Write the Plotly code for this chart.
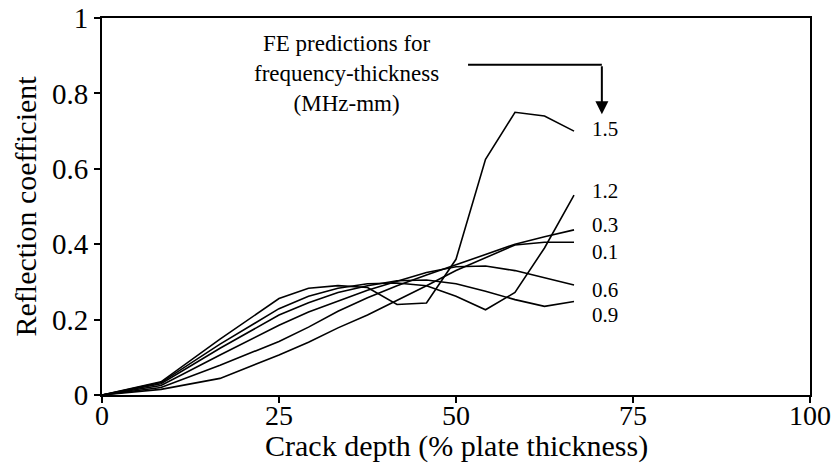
import plotly.graph_objects as go

# Crack depth (% plate thickness)
depth = [0, 8.33, 16.67, 25, 29.17, 33.33, 37.5, 41.67, 45.83, 50, 54.17, 58.33, 62.5, 66.67]

# Reflection coefficient for each frequency-thickness (MHz-mm)
r_1_5 = [0, 0.035, 0.148, 0.256, 0.283, 0.290, 0.285, 0.240, 0.244, 0.360, 0.625, 0.750, 0.740, 0.700]
r_1_2 = [0, 0.033, 0.135, 0.229, 0.262, 0.283, 0.295, 0.297, 0.290, 0.262, 0.226, 0.272, 0.390, 0.530]
r_0_9 = [0, 0.030, 0.124, 0.212, 0.245, 0.272, 0.290, 0.303, 0.305, 0.295, 0.275, 0.253, 0.235, 0.248]
r_0_6 = [0, 0.025, 0.106, 0.185, 0.220, 0.250, 0.278, 0.302, 0.325, 0.340, 0.342, 0.330, 0.312, 0.292]
r_0_3 = [0, 0.020, 0.079, 0.142, 0.180, 0.222, 0.258, 0.290, 0.318, 0.345, 0.372, 0.400, 0.420, 0.438]
r_0_1 = [0, 0.015, 0.044, 0.106, 0.140, 0.178, 0.212, 0.250, 0.290, 0.330, 0.365, 0.398, 0.405, 0.405]

series = [("1.5", r_1_5, 0.705), ("1.2", r_1_2, 0.540), ("0.3", r_0_3, 0.450),
          ("0.1", r_0_1, 0.380), ("0.6", r_0_6, 0.278), ("0.9", r_0_9, 0.212)]

x_ticks = [0, 25, 50, 75, 100]
y_ticks = [0, 0.2, 0.4, 0.6, 0.8, 1]
y_tick_text = ["0", "0.2", "0.4", "0.6", "0.8", "1"]

FONT = "Liberation Serif, Times New Roman, serif"

fig = go.Figure()
for name, vals, _ in series:
    fig.add_trace(go.Scatter(x=depth, y=vals, mode="lines", name=name,
                             line=dict(color="black", width=1.6), showlegend=False))

annotations = []
for name, vals, ly in series:
    annotations.append(dict(x=68.9, y=ly, xref="x", yref="y", text=name, showarrow=False,
                            xanchor="left", yanchor="middle",
                            font=dict(family=FONT, size=21, color="black")))

annotations.append(dict(x=34.6, y=0.853, xref="x", yref="y",
                        text="FE predictions for<br>frequency-thickness<br>(MHz-mm)",
                        showarrow=False, xanchor="center", yanchor="middle", align="center",
                        font=dict(family=FONT, size=23, color="black")))

# pointer arrow
annotations.append(dict(x=70.6, y=0.745, ax=70.6, ay=0.876, xref="x", yref="y",
                        axref="x", ayref="y", text="", showarrow=True,
                        arrowhead=2, arrowsize=1.3, arrowwidth=2, arrowcolor="black"))

# axis titles
annotations.append(dict(x=0.5, y=0, xref="paper", yref="paper", yshift=-51,
                        text="Crack depth (% plate thickness)", showarrow=False,
                        xanchor="center", yanchor="middle",
                        font=dict(family=FONT, size=30, color="black")))
annotations.append(dict(x=0, y=0.5, xref="paper", yref="paper", xshift=-77,
                        text="Reflection coefficient", showarrow=False, textangle=-90,
                        xanchor="center", yanchor="middle",
                        font=dict(family=FONT, size=30, color="black")))

shapes = [dict(type="line", xref="x", yref="y", x0=51.7, y0=0.876, x1=70.6, y1=0.876,
               line=dict(color="black", width=2))]

fig.update_layout(
    width=834, height=464,
    margin=dict(l=102, r=24, t=18, b=69),
    paper_bgcolor="white", plot_bgcolor="white",
    font=dict(family=FONT, color="black", size=29),
    annotations=annotations, shapes=shapes,
    xaxis=dict(range=[0, 100], tickvals=x_ticks, showgrid=False, zeroline=False,
               automargin=False, ticklabelstandoff=-12,
               showline=True, mirror=True, linecolor="black", linewidth=2,
               ticks="outside", ticklen=6, tickwidth=2, tickcolor="black",
               tickfont=dict(family=FONT, size=28, color="black")),
    yaxis=dict(range=[0, 1], tickvals=y_ticks, ticktext=y_tick_text, showgrid=False,
               automargin=False,
               zeroline=False, showline=True, mirror=True, linecolor="black", linewidth=2,
               ticks="outside", ticklen=6, tickwidth=2, tickcolor="black",
               tickfont=dict(family=FONT, size=29, color="black")),
)

fig.write_html("out.html")
